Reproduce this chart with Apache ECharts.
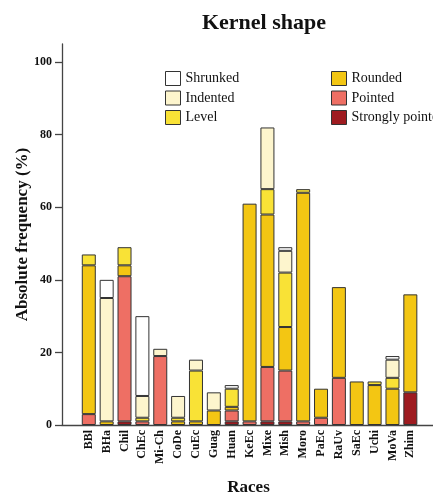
<!DOCTYPE html>
<html>
<head>
<meta charset="utf-8">
<script src="https://cdn.jsdelivr.net/npm/echarts@6/dist/echarts.min.js"></script>
<style>html,body{margin:0;padding:0;background:#fff;}#chart{width:433px;height:498px;}</style>
</head>
<body>
<div id="chart"></div>
<script>
var races = ['BBl','BHa','Chil','ChEc','Mi-Ch','CoDe','CuEc','Guag','Huan','KeEc','Mixe','Mish','Moro','PaEc','RaUv','SaEc','Uchi','MoVa','Zhim'];
var stronglyPointed = [0,0,1,0,0,0,0,0,1,0,1,1,0,0,0,0,0,0,9];
var pointed         = [3,0,40,1,19,0,0,0,3,1,15,14,1,2,13,0,0,0,0];
var rounded         = [41,1,3,0,0,1,1,4,1,60,42,12,63,8,25,12,11,10,27];
var level           = [3,0,5,1,0,1,14,0,5,0,7,15,1,0,0,0,1,3,0];
var indented        = [0,34,0,6,2,6,3,5,0,0,17,6,0,0,0,0,0,5,0];
var shrunked        = [0,5,0,22,0,0,0,0,1,0,0,1,0,0,0,0,0,1,0];
var yTicks = [0,20,40,60,80,100];

var serif = 'Liberation Serif';
var cats = [''].concat(races).concat(['','']);
function pad(arr){ return [null].concat(arr.map(function(v){return v===0?null:v;})).concat([null,null]); }

var seriesDefs = [
  {name:'Strongly pointed', data:stronglyPointed, color:'#9e1b20'},
  {name:'Pointed', data:pointed, color:'#ee6f64'},
  {name:'Rounded', data:rounded, color:'#f3c613'},
  {name:'Level', data:level, color:'#f9e236'},
  {name:'Indented', data:indented, color:'#fdf5cd'},
  {name:'Shrunked', data:shrunked, color:'#ffffff'}
];

var chart = echarts.init(document.getElementById('chart'), null, {renderer:'canvas'});
chart.setOption({
  animation:false,
  backgroundColor:'#ffffff',
  title:{text:'Kernel shape', left:259, textAlign:'center', top:7,
    textStyle:{fontFamily:serif, fontWeight:'bold', fontSize:22, color:'#111'}},
  legend:[
    {orient:'vertical', left:165, top:71, padding:0, itemWidth:15, itemHeight:14, itemGap:4.5, icon:'rect',
     data:['Shrunked','Indented','Level'],
     itemStyle:{borderColor:'#333', borderWidth:1},
     textStyle:{fontFamily:serif, fontSize:14, color:'#111'}},
    {orient:'vertical', left:331, top:71, padding:0, itemWidth:15, itemHeight:14, itemGap:4.5, icon:'rect',
     data:['Rounded','Pointed','Strongly pointed'],
     itemStyle:{borderColor:'#333', borderWidth:1},
     textStyle:{fontFamily:serif, fontSize:14, color:'#111'}}
  ],
  grid:{left:62, top:44, right:-22, bottom:73, containLabel:false, outerBoundsMode:'none'},
  xAxis:{
    type:'category', data:cats, boundaryGap:true,
    name:'Races', nameLocation:'middle', nameGap:54, nameMoveOverlap:false,
    nameTextStyle:{fontFamily:serif, fontWeight:'bold', fontSize:17, color:'#111', padding:[0,20,0,0]},
    axisLine:{lineStyle:{color:'#444', width:1.3}},
    axisTick:{alignWithLabel:true, length:5, lineStyle:{color:'#444', width:1.3},
      interval:function(i,v){return v!=='';}},
    axisLabel:{interval:0, rotate:90, margin:5, fontFamily:serif, fontWeight:'bold', fontSize:12, color:'#111'}
  },
  yAxis:{
    type:'value', min:0, max:105,
    name:'Absolute frequency (%)', nameLocation:'middle', nameGap:31, nameMoveOverlap:false,
    nameTextStyle:{fontFamily:serif, fontWeight:'bold', fontSize:17, color:'#111'},
    axisLine:{show:true, lineStyle:{color:'#444', width:1.3}},
    axisTick:{show:true, length:7, customValues:yTicks, lineStyle:{color:'#444', width:1.3}},
    axisLabel:{customValues:yTicks, margin:10, fontFamily:serif, fontWeight:'bold', fontSize:12, color:'#111'},
    splitLine:{show:false}
  },
  series: seriesDefs.map(function(s){
    return {name:s.name, type:'bar', stack:'total', barWidth:14, data:pad(s.data),
      itemStyle:{color:s.color, borderColor:'#333', borderWidth:1}};
  })
});
</script>
</body>
</html>
